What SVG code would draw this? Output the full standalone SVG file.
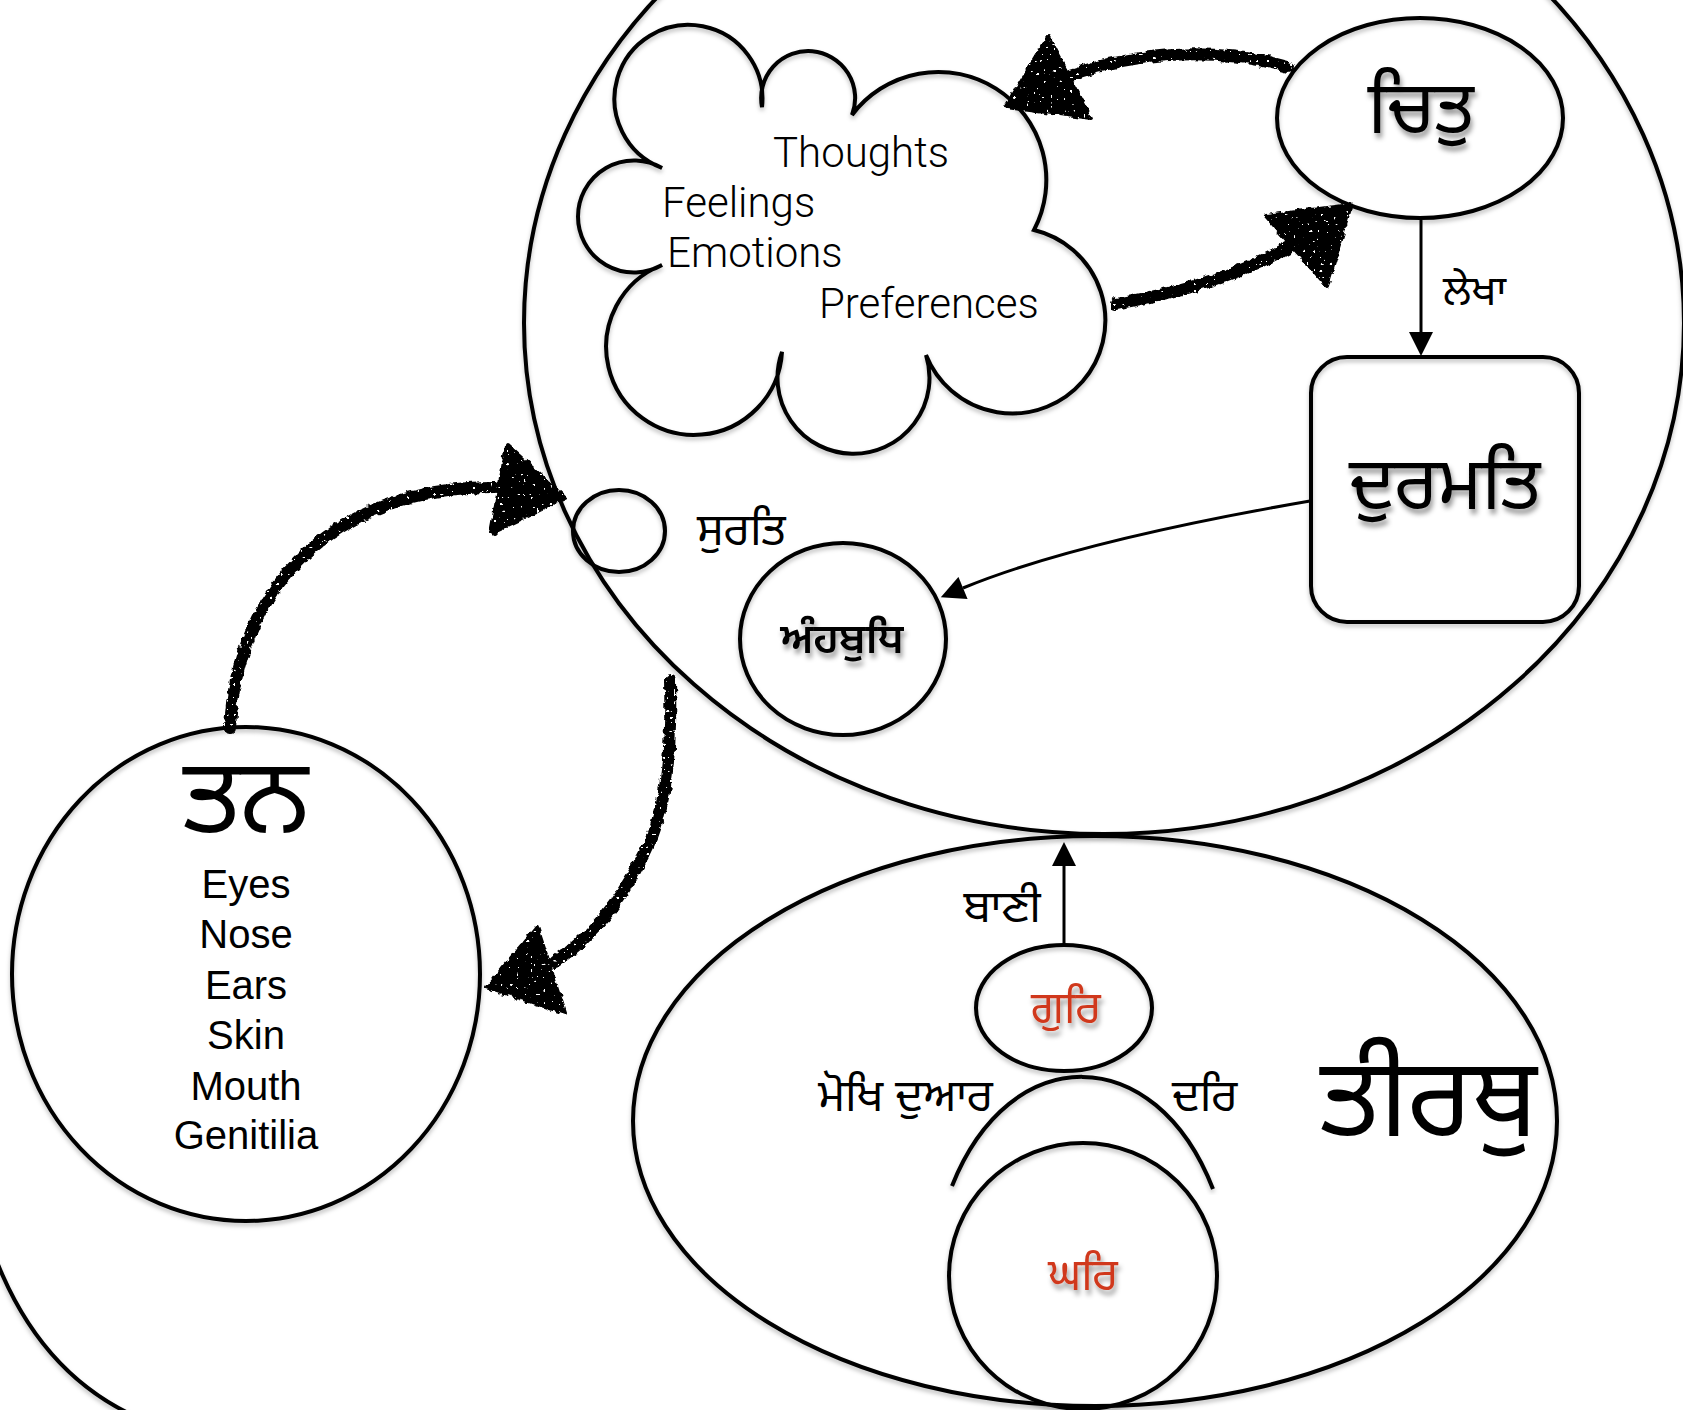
<svg xmlns="http://www.w3.org/2000/svg" width="1683" height="1410" viewBox="0 0 1683 1410">
<style>
  .shape { fill: none; stroke: #000; stroke-width: 4; }
  .line { fill: none; stroke: #000; stroke-width: 3; }
  .chalk { fill: none; stroke: #000; stroke-width: 12; stroke-linecap: round; }
  .chalkhead { fill: #000; stroke: #000; stroke-width: 4; stroke-linejoin: round; }
  .gur { font-family: "Noto Sans Gurmukhi", "Lohit Gurmukhi", "Noto Sans", sans-serif; fill: #000; }
  .red { fill: #d0391c; }
  .light { font-family: Roboto, "Liberation Sans", sans-serif; font-weight: 300; font-size: 42px; fill: #000; }
  .list { font-family: "Liberation Sans", Arial, sans-serif; font-size: 40px; fill: #000; text-anchor: middle; }
</style>
<defs>
  <filter id="tsh" x="-20%" y="-20%" width="140%" height="160%">
    <feDropShadow dx="2" dy="5" stdDeviation="2.5" flood-color="#000" flood-opacity="0.4"/>
  </filter>
  <filter id="ssh" x="-5%" y="-5%" width="110%" height="110%">
    <feDropShadow dx="0" dy="3" stdDeviation="2" flood-color="#000" flood-opacity="0.25"/>
  </filter>
  <filter id="rough" x="-10%" y="-10%" width="120%" height="120%" color-interpolation-filters="sRGB">
    <feTurbulence type="fractalNoise" baseFrequency="0.15" numOctaves="2" seed="4" result="n"/>
    <feDisplacementMap in="SourceGraphic" in2="n" scale="6" xChannelSelector="R" yChannelSelector="G" result="d"/>
    <feTurbulence type="fractalNoise" baseFrequency="0.3" numOctaves="1" seed="11" result="n2"/>
    <feColorMatrix in="n2" type="matrix" values="0 0 0 0 0  0 0 0 0 0  0 0 0 0 0  -40 0 0 0 29" result="mask"/>
    <feComposite in="d" in2="mask" operator="in"/>
  </filter>
  <marker id="arr" viewBox="0 0 10 10" refX="0" refY="5" markerWidth="25" markerHeight="24" markerUnits="userSpaceOnUse" orient="auto">
    <path d="M0,0 L10,5 L0,10 z" fill="#000"/>
  </marker>
</defs>

<g id="outer-arc" filter="url(#ssh)">
  <path class="shape" d="M-3,1262 Q40,1370 130,1414"/>
</g>

<g id="mind" filter="url(#ssh)">
  <ellipse class="shape" cx="1104" cy="323" rx="580" ry="511"/>
</g>

<g id="tirath" filter="url(#ssh)">
  <ellipse class="shape" cx="1095" cy="1121" rx="462" ry="285"/>
</g>

<g id="cloud" filter="url(#ssh)">
  <path class="shape" d="M762,107 A47,47 0 1 1 852,115 A108,108 0 0 1 1034,230 A93,93 0 1 1 926,355 A76,76 0 1 1 782,352 A88,88 0 1 1 662,265 A56,56 0 1 1 662,168 A74,74 0 1 1 762,107 Z"/>
</g>
<g id="cloud-text">
  <text class="light" x="773" y="167">Thoughts</text>
  <text class="light" x="662" y="217">Feelings</text>
  <text class="light" x="667" y="267">Emotions</text>
  <text class="light" x="819" y="318">Preferences</text>
</g>

<g id="chitt">
  <ellipse class="shape" cx="1420" cy="118" rx="143" ry="100" filter="url(#ssh)"/>
  <text class="gur" x="1421" y="133" font-size="73" text-anchor="middle" filter="url(#tsh)">ਚਿਤੁ</text>
</g>

<g id="durmat">
  <rect class="shape" x="1311" y="357" width="268" height="265" rx="36" filter="url(#ssh)"/>
  <text class="gur" x="1445" y="509" font-size="74" text-anchor="middle" filter="url(#tsh)">ਦੁਰਮਤਿ</text>
</g>

<g id="surat">
  <ellipse class="shape" cx="619" cy="531" rx="46" ry="41" filter="url(#ssh)"/>
  <text class="gur" x="697" y="545" font-size="45">ਸੁਰਤਿ</text>
</g>

<g id="ahanbudh">
  <ellipse class="shape" cx="843" cy="639" rx="103" ry="96" filter="url(#ssh)"/>
  <text class="gur" x="842" y="653" font-size="42" font-weight="600" text-anchor="middle" filter="url(#tsh)">ਅੰਹਬੁਧਿ</text>
</g>

<g id="tan">
  <ellipse class="shape" cx="246" cy="974" rx="234" ry="247" filter="url(#ssh)"/>
  <text class="gur" x="246" y="833" font-size="106" text-anchor="middle">ਤਨ</text>
  <text class="list" x="246" y="898">Eyes</text>
  <text class="list" x="246" y="948">Nose</text>
  <text class="list" x="246" y="999">Ears</text>
  <text class="list" x="246" y="1049">Skin</text>
  <text class="list" x="246" y="1100">Mouth</text>
  <text class="list" x="246" y="1149">Genitilia</text>
</g>

<g id="guri">
  <ellipse class="shape" cx="1064" cy="1008" rx="88" ry="63" filter="url(#ssh)"/>
  <text class="gur red" x="1066" y="1023" font-size="44" text-anchor="middle" filter="url(#tsh)">ਗੁਰਿ</text>
</g>

<g id="ghar">
  <ellipse class="shape" cx="1083" cy="1276" rx="134" ry="133" filter="url(#ssh)"/>
  <text class="gur red" x="1083" y="1290" font-size="44" text-anchor="middle" filter="url(#tsh)">ਘਰਿ</text>
</g>

<g id="duar">
  <path class="shape" d="M952,1186 C1010,1040 1155,1040 1213,1189" filter="url(#ssh)"/>
  <text class="gur" x="993" y="1111" font-size="45" text-anchor="end">ਮੋਖਿ ਦੁਆਰ</text>
  <text class="gur" x="1172" y="1111" font-size="45">ਦਰਿ</text>
</g>

<g id="tirath-label">
  <text class="gur" x="1320" y="1136" font-size="110">ਤੀਰਥੁ</text>
</g>

<g id="connectors">
  <path class="line" d="M1421,220 L1421,332" marker-end="url(#arr)"/>
  <text class="gur" x="1443" y="305" font-size="42">ਲੇਖਾ</text>
  <path class="line" d="M1310,501 C1200,520 1060,548 963,588" marker-end="url(#arr)"/>
  <path class="line" d="M1064,946 L1064,866" marker-end="url(#arr)"/>
  <text class="gur" x="1041" y="922" font-size="45" text-anchor="end">ਬਾਣੀ</text>

  <g filter="url(#rough)">
    <path class="chalk" d="M1288,67 C1220,48 1140,50 1068,76"/>
    <polygon class="chalkhead" points="1048,37 1006,107 1091,118"/>
    <path class="chalk" d="M1116,304 C1180,292 1240,276 1292,245"/>
    <polygon class="chalkhead" points="1266,216 1351,205 1327,286"/>
    <path class="chalk" d="M230,728 C236,592 330,487 495,487"/>
    <polygon class="chalkhead" points="507,445 491,533 565,498"/>
    <path class="chalk" d="M670,680 C672,760 665,820 640,862 C620,900 595,935 555,962"/>
    <polygon class="chalkhead" points="537,927 487,987 565,1013"/>
  </g>
</g>
</svg>
